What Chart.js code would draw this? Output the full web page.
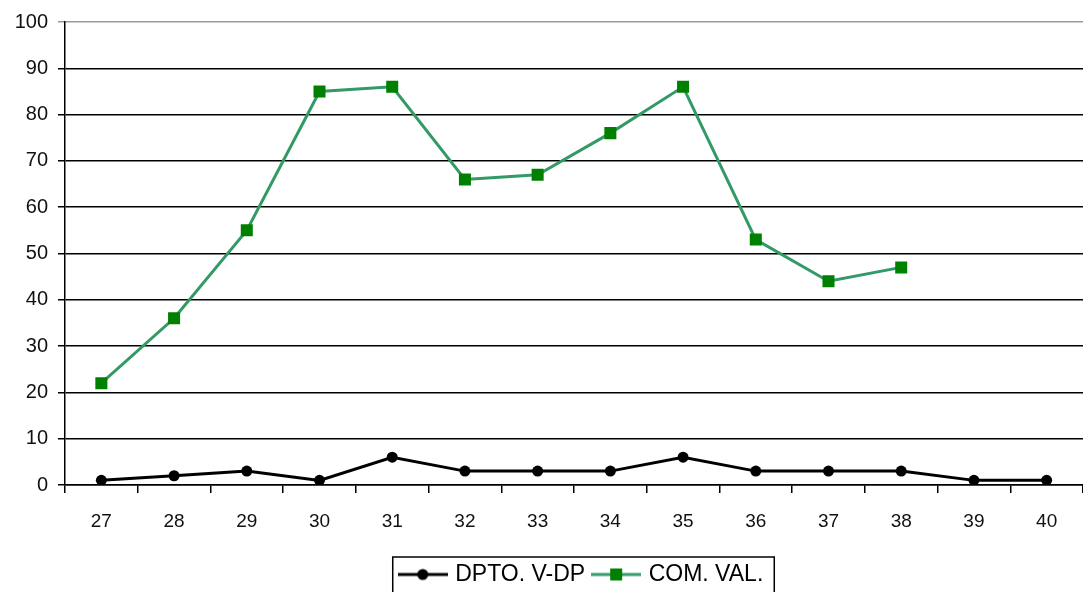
<!DOCTYPE html>
<html>
<head>
<meta charset="utf-8">
<script src="https://cdn.jsdelivr.net/npm/chart.js@4/dist/chart.umd.min.js"></script>
<style>
  html, body { margin: 0; padding: 0; background: #fff; }
  #wrap { width: 1083px; height: 592px; position: relative; }
</style>
</head>
<body>
<div id="wrap"><canvas id="chart"></canvas></div>
<script>
const categories = ['27', '28', '29', '30', '31', '32', '33', '34', '35', '36', '37', '38', '39', '40']
const dptoValues = [1, 2, 3, 1, 6, 3, 3, 3, 6, 3, 3, 3, 1, 1]
const comValues = [22, 36, 55, 85, 86, 66, 67, 76, 86, 53, 44, 47, null, null]
const seriesNames = ['DPTO. V-DP', 'COM. VAL.']
const yTicks = [0, 10, 20, 30, 40, 50, 60, 70, 80, 90, 100]

const FONT = 'Liberation Sans, Arial, sans-serif'

// legend swatch: line with the marker in the middle
function swatch(lineColor, markerColor, marker) {
  const c = document.createElement('canvas')
  c.width = 50
  c.height = 14
  const g = c.getContext('2d')
  g.strokeStyle = lineColor
  g.lineWidth = 3
  g.beginPath()
  g.moveTo(0, 7)
  g.lineTo(50, 7)
  g.stroke()
  g.fillStyle = markerColor
  if (marker === 'square') {
    g.fillRect(19, 1, 12, 12)
  } else {
    g.beginPath()
    g.arc(25, 7, 5.5, 0, Math.PI * 2)
    g.fill()
  }
  return c
}

const legendBox = {
  id: 'legendBox',
  afterLayout(chart) {
    // the original legend sits a bit lower and right of centre
    const lg = chart.legend
    lg.top += 4
    lg.bottom += 4
    lg.left += 41
    lg.right += 41
  },
  afterDraw(chart) {
    const hb = chart.legend.legendHitBoxes
    if (!hb || !hb.length) return
    const first = hb[0]
    const last = hb[hb.length - 1]
    const ctx = chart.ctx
    ctx.save()
    ctx.strokeStyle = '#000'
    ctx.lineWidth = 1.5
    ctx.strokeRect(first.left - 9, 557, last.left + last.width - first.left + 20, 60)
    ctx.restore()
  }
}

new Chart(document.getElementById('chart'), {
  type: 'line',
  data: {
    labels: categories,
    datasets: [
      {
        label: seriesNames[0],
        data: dptoValues,
        borderColor: '#000',
        backgroundColor: '#000',
        borderWidth: 3,
        pointStyle: 'circle',
        pointRadius: 5.5,
        pointBorderWidth: 0,
        tension: 0
      },
      {
        label: seriesNames[1],
        data: comValues,
        borderColor: '#339966',
        backgroundColor: '#008000',
        borderWidth: 3,
        pointStyle: 'rect',
        pointRadius: 8.5,
        pointBorderWidth: 0,
        tension: 0,
        spanGaps: false
      }
    ]
  },
  plugins: [legendBox],
  options: {
    responsive: true,
    maintainAspectRatio: false,
    animation: false,
    layout: { autoPadding: false, padding: { top: 21, right: 0, left: 0, bottom: 0 } },
    plugins: {
      tooltip: { enabled: false },
      legend: {
        position: 'bottom',
        labels: {
          usePointStyle: true,
          pointStyleWidth: 42,
          boxHeight: 14,
          padding: 10,
          color: '#000',
          font: { family: FONT, size: 23 },
          generateLabels(chart) {
            return [
              { text: seriesNames[0], pointStyle: swatch('#000', '#000', 'circle'), datasetIndex: 0, fontColor: '#000', lineWidth: 0 },
              { text: seriesNames[1], pointStyle: swatch('#339966', '#008000', 'square'), datasetIndex: 1, fontColor: '#000', lineWidth: 0 }
            ]
          }
        }
      }
    },
    scales: {
      x: {
        offset: true,
        afterFit(scale) {
          scale.height = 64
          scale.paddingLeft = 0
          scale.paddingRight = 0
        },
        grid: {
          display: true,
          drawOnChartArea: false,
          offset: true,
          color: '#000',
          lineWidth: 1.5,
          tickLength: 8
        },
        border: { color: '#000', width: 1.5 },
        ticks: {
          color: '#111',
          padding: 17,
          maxRotation: 0,
          font: { family: FONT, size: 19 }
        }
      },
      y: {
        min: 0,
        max: 100,
        afterFit(scale) { scale.width = 65 },
        afterBuildTicks(scale) { scale.ticks = yTicks.map(v => ({ value: v })) },
        grid: {
          color: ctx => ctx.tick && ctx.tick.value === 100 ? '#999' : '#000',
          lineWidth: 1.5,
          tickLength: 7
        },
        border: { color: '#000', width: 1.5 },
        ticks: {
          color: '#111',
          padding: 10,
          font: { family: FONT, size: 20 }
        }
      }
    }
  }
})
</script>
</body>
</html>
